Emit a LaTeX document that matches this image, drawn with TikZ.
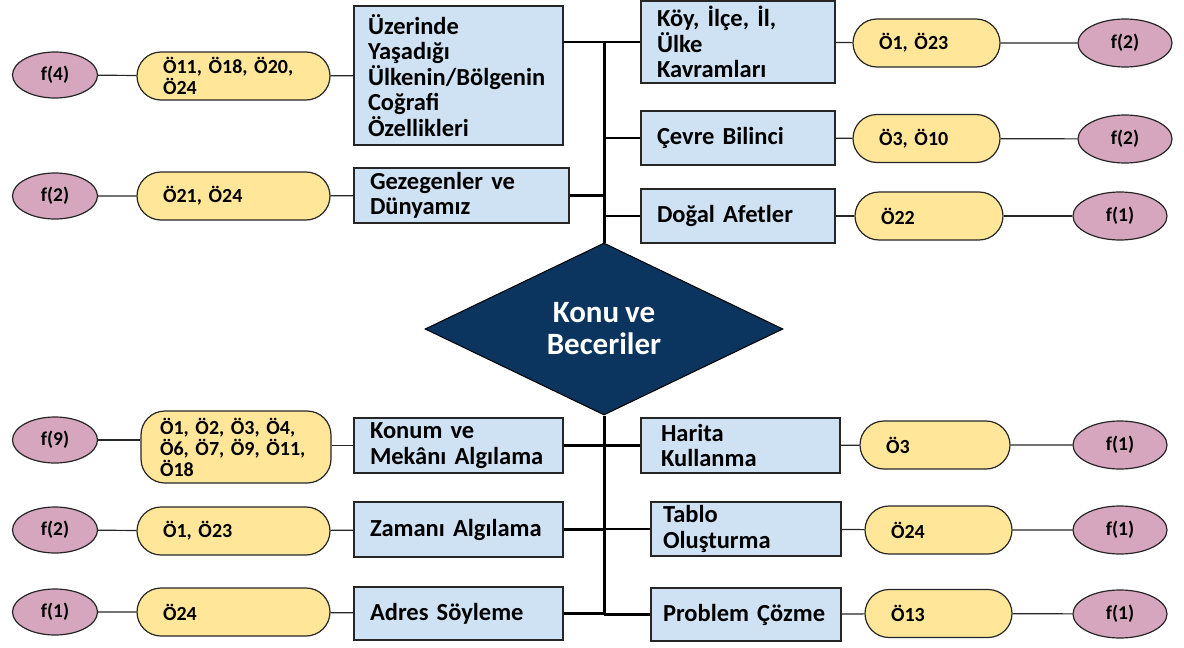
\documentclass[tikz,border=0pt]{standalone}
\usepackage{fontspec}
\setmainfont{Carlito}[WordSpace=0.85]
\usetikzlibrary{shapes.geometric}
\definecolor{boxblue}{HTML}{CFE2F3}
\definecolor{pillyellow}{HTML}{FFE699}
\definecolor{rose}{HTML}{D5A6BD}
\definecolor{navy}{HTML}{0B355E}
\begin{document}
\begin{tikzpicture}[x=1pt,y=-1pt,
 box/.style={draw=black!85, line width=1.2pt, fill=boxblue, inner xsep=16pt, inner ysep=0pt, align=left, font=\fontsize{24.5}{25.5}\selectfont\bfseries},
 pillbox/.style={draw=black!85, line width=1.2pt, fill=pillyellow, rounded corners=24pt, inner xsep=26pt, inner ysep=0pt, align=left, font=\fontsize{20}{21}\selectfont\bfseries, minimum height=48pt},
 freq/.style={ellipse, draw=black!85, line width=1.2pt, fill=rose, minimum width=85pt, minimum height=46pt, inner sep=0pt, font=\fontsize{19.5}{20}\selectfont\bfseries},
 freqr/.style={freq, minimum width=94pt, minimum height=48pt},
 link/.style={line width=1.2pt, draw=black!85},
 branch/.style={line width=2.4pt},
 spine/.style={line width=3pt}]
\useasboundingbox (0,0) rectangle (1184,648);
% left column
\node[freq] (e1) at (55,75) {f(4)};
\node[pillbox, text width=141pt] (q1) at (233.5,76) {Ö11, Ö18, Ö20,\\Ö24};
\node[box, inner xsep=14pt, text width=181pt, minimum height=139pt] (b1) at (458.5,75.5) {Üzerinde\\Yaşadığı\\Ülkenin/Bölgenin\\Coğrafi\\Özellikleri};
\node[freq] (e2) at (55,196) {f(2)};
\node[pillbox, text width=141pt] (q2) at (233.5,196) {Ö21, Ö24};
\node[box, text width=183pt, minimum height=55pt] (b2) at (461.5,195.5) {Gezegenler ve\\Dünyamız};
\node[freq] (e3) at (55,440) {f(9)};
\node[pillbox, text width=152pt, inner xsep=19pt, minimum height=72pt] (q3) at (236,447) {Ö1, Ö2, Ö3, Ö4,\\Ö6, Ö7, Ö9, Ö11,\\Ö18};
\node[box, text width=177pt, minimum height=55pt] (b3) at (458.5,445.5) {Konum ve\\Mekânı Algılama};
\node[freq] (e4) at (55,530) {f(2)};
\node[pillbox, text width=141pt] (q4) at (233.5,531) {Ö1, Ö23};
\node[box, text width=177pt, minimum height=55pt] (b4) at (458.5,529.5) {Zamanı Algılama};
\node[freq] (e5) at (55,612) {f(1)};
\node[pillbox, text width=141pt] (q5) at (233.5,612) {Ö24};
\node[box, text width=177pt, minimum height=53pt] (b5) at (458.5,613.5) {Adres Söyleme};
% right column
\node[box, text width=162pt, minimum height=82pt] (r1) at (738,42) {Köy, İlçe, İl,\\Ülke\\Kavramları};
\node[pillbox, text width=95pt] (p1) at (926.5,43) {Ö1, Ö23};
\node[freqr] (f1) at (1125,43) {f(2)};
\node[box, text width=162pt, minimum height=54pt] (r2) at (738,138) {Çevre Bilinci};
\node[pillbox, text width=95pt] (p2) at (926.5,138.5) {Ö3, Ö10};
\node[freqr] (f2) at (1125,139) {f(2)};
\node[box, text width=162pt, minimum height=54pt] (r3) at (738,216) {Doğal Afetler};
\node[pillbox, text width=96pt] (p3) at (929,216) {Ö22};
\node[freqr] (f3) at (1120,216) {f(1)};
\node[box, inner xsep=20pt, text width=159pt, minimum height=55pt] (r4) at (740.5,445.5) {Harita\\Kullanma};
\node[pillbox, text width=98pt] (p4) at (935,445) {Ö3};
\node[freqr] (f4) at (1120,445) {f(1)};
\node[box, inner xsep=12pt, text width=166pt, minimum height=54pt] (r5) at (746,529) {Tablo\\Oluşturma};
\node[pillbox, text width=95pt] (p5) at (938.5,530) {Ö24};
\node[freqr] (f5) at (1120,530) {f(1)};
\node[box, inner xsep=12pt, text width=166pt, minimum height=53pt] (r6) at (746,614.5) {Problem Çözme};
\node[pillbox, text width=95pt] (p6) at (938.5,613.5) {Ö13};
\node[freqr] (f6) at (1120,614) {f(1)};
% centre
\node[diamond, fill=navy, draw=black, line width=1pt, minimum width=358pt, minimum height=172pt, inner sep=0pt, text=white, align=center, font=\fontsize{31}{32}\selectfont\bfseries] (d) at (604,329) {Konu ve\\Beceriler};
% spine and branches
\coordinate (sp) at (604,0);
\draw[spine] (sp |- r1.west) -- (d.north);
\draw[spine] (d.south) -- (sp |- r6.west);
\draw[branch] (b1.east |- r1.west) -- (r1.west);
\draw[branch] (b2.east) -- (b2.east -| sp);
\draw[branch] (sp |- r2.west) -- (r2.west);
\draw[branch] (sp |- r3.west) -- (r3.west);
\draw[branch] (b3.east) -- (r4.west);
\draw[branch] (b4.east) -- (b4.east -| sp);
\draw[branch] (sp |- r5.west) -- (r5.west);
\draw[branch] (b5.east) -- (b5.east -| sp);
\draw[branch] (sp |- r6.west) -- (r6.west);
% thin links
\draw[link] (e1) -- (q1) -- (b1);
\draw[link] (e2) -- (q2) -- (b2);
\draw[link] (e3.east) -- (e3.east -| q3.west);
\draw[link] (q3.east |- b3.west) -- (b3.west);
\draw[link] (e4) -- (q4) -- (b4);
\draw[link] (e5) -- (q5) -- (b5);
\draw[link] (r1) -- (p1) -- (f1);
\draw[link] (r2) -- (p2) -- (f2);
\draw[link] (r3) -- (p3) -- (f3);
\draw[link] (r4) -- (p4) -- (f4);
\draw[link] (r5) -- (p5) -- (f5);
\draw[link] (r6) -- (p6) -- (f6);
\end{tikzpicture}
\end{document}
